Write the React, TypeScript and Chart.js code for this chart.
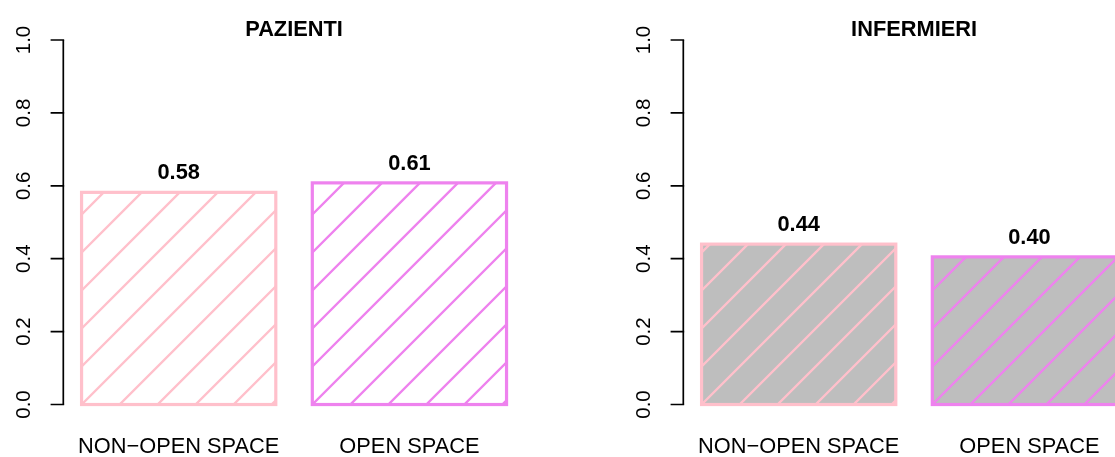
import React, { useEffect, useRef } from "react";
import { Chart, registerables } from "chart.js";

Chart.register(...registerables);

// ---- data ----
const categories = ["NON\u2212OPEN SPACE", "OPEN SPACE"];
const pazientiValues = [0.582, 0.608];
const pazientiLabels = ["0.58", "0.61"];
const infermieriValues = [0.44, 0.405];
const infermieriLabels = ["0.44", "0.40"];
const yTicks = [0, 0.2, 0.4, 0.6, 0.8, 1.0];
const yTickLabels = ["0.0", "0.2", "0.4", "0.6", "0.8", "1.0"];
const barColors = ["#FFC0CB", "#EE82EE"];

const FONT = "'Liberation Sans', Arial, Helvetica, sans-serif";
const PANEL_W = 620;
const PANEL_H = 457;

const rStylePlugin = {
  id: "rStyle",
  afterDatasetsDraw(chart: any, _args: any, opts: any) {
    const ctx = chart.ctx;
    const meta = chart.getDatasetMeta(0);
    const spacing = 38;
    meta.data.forEach((bar: any, i: number) => {
      const p = bar.getProps(["x", "y", "base", "width"], true);
      const left = p.x - p.width / 2;
      const w = p.width;
      const top = p.y;
      const bottom = p.base;
      const h = bottom - top;
      const color = barColors[i % barColors.length];
      // hatching (45 degrees, anchored at bottom-left corner)
      ctx.save();
      ctx.beginPath();
      ctx.rect(left, top, w, h);
      ctx.clip();
      ctx.strokeStyle = color;
      ctx.lineWidth = 2.4;
      ctx.beginPath();
      for (let k = -Math.ceil(h / spacing) - 1; k * spacing < w + spacing; k++) {
        const x0 = left + k * spacing;
        ctx.moveTo(x0, bottom);
        ctx.lineTo(x0 + h + w, bottom - h - w);
      }
      ctx.stroke();
      ctx.restore();
      // border
      ctx.save();
      ctx.strokeStyle = color;
      ctx.lineWidth = 3.2;
      ctx.lineJoin = "miter";
      ctx.strokeRect(left, top, w, h);
      ctx.restore();
      // value label
      ctx.save();
      ctx.fillStyle = "#000";
      ctx.font = `bold 21.8px ${FONT}`;
      ctx.textAlign = "center";
      ctx.textBaseline = "alphabetic";
      ctx.fillText(opts.valueLabels[i], p.x, top - 13);
      ctx.restore();
    });
  },
  afterDraw(chart: any, _args: any, opts: any) {
    const ctx = chart.ctx;
    const area = chart.chartArea;
    const yScale = chart.scales.y;
    const xScale = chart.scales.x;
    ctx.save();
    // y axis line from 0 to 1
    const axX = area.left;
    ctx.strokeStyle = "#000";
    ctx.lineWidth = 1.7;
    ctx.beginPath();
    ctx.moveTo(axX, yScale.getPixelForValue(yTicks[0]));
    ctx.lineTo(axX, yScale.getPixelForValue(yTicks[yTicks.length - 1]));
    ctx.stroke();
    ctx.beginPath();
    yTicks.forEach((v) => {
      const py = yScale.getPixelForValue(v);
      ctx.moveTo(axX + 0.85, py);
      ctx.lineTo(axX - 12.7, py);
    });
    ctx.stroke();
    // tick labels rotated
    ctx.fillStyle = "#000";
    ctx.font = `20.5px ${FONT}`;
    ctx.textAlign = "center";
    ctx.textBaseline = "middle";
    yTicks.forEach((v, i) => {
      const py = yScale.getPixelForValue(v);
      ctx.save();
      ctx.translate(axX - 39, py);
      ctx.rotate(-Math.PI / 2);
      ctx.fillText(yTickLabels[i], 0, 0);
      ctx.restore();
    });
    // category labels
    ctx.font = `21.8px ${FONT}`;
    ctx.textBaseline = "alphabetic";
    categories.forEach((c, i) => {
      ctx.fillText(c, xScale.getPixelForValue(i), 453);
    });
    // title
    ctx.font = `bold 21.8px ${FONT}`;
    ctx.fillText(opts.title, (area.left + area.right) / 2, 36);
    ctx.restore();
  },
};

function Panel(props: { title: string; values: number[]; valueLabels: string[]; fill: string; left: number }) {
  const ref = useRef<HTMLCanvasElement | null>(null);
  useEffect(() => {
    if (!ref.current) return;
    const chart = new Chart(ref.current, {
      type: "bar",
      data: {
        labels: categories,
        datasets: [
          {
            data: props.values,
            backgroundColor: props.fill,
            borderWidth: 0,
            barPercentage: 1 / 1.188,
            categoryPercentage: 1,
          },
        ],
      },
      options: {
        responsive: false,
        animation: false,
        events: [],
        layout: { padding: { left: 63.3, right: PANEL_W - 524.8, top: 25.4, bottom: PANEL_H - 419.1 } },
        scales: {
          x: { type: "category", display: false, offset: true },
          y: { type: "linear", display: false, min: -0.04, max: 1.04 },
        },
        plugins: {
          legend: { display: false },
          tooltip: { enabled: false },
          title: { display: false },
          rStyle: { title: props.title, valueLabels: props.valueLabels },
        } as any,
      },
      plugins: [rStylePlugin as any],
    });
    return () => chart.destroy();
  }, []);
  return (
    <div style={{ position: "absolute", left: props.left, top: 0, width: PANEL_W, height: PANEL_H }}>
      <canvas ref={ref} width={PANEL_W} height={PANEL_H} style={{ display: "block" }} />
    </div>
  );
}

export default function App() {
  return (
    <div
      style={{
        position: "fixed",
        left: 0,
        top: 0,
        width: 1115,
        height: 457,
        overflow: "hidden",
        background: "#fff",
      }}
    >
      <Panel title="PAZIENTI" values={pazientiValues} valueLabels={pazientiLabels} fill="rgba(0,0,0,0)" left={0} />
      <Panel title="INFERMIERI" values={infermieriValues} valueLabels={infermieriLabels} fill="#BEBEBE" left={PANEL_W} />
    </div>
  );
}
